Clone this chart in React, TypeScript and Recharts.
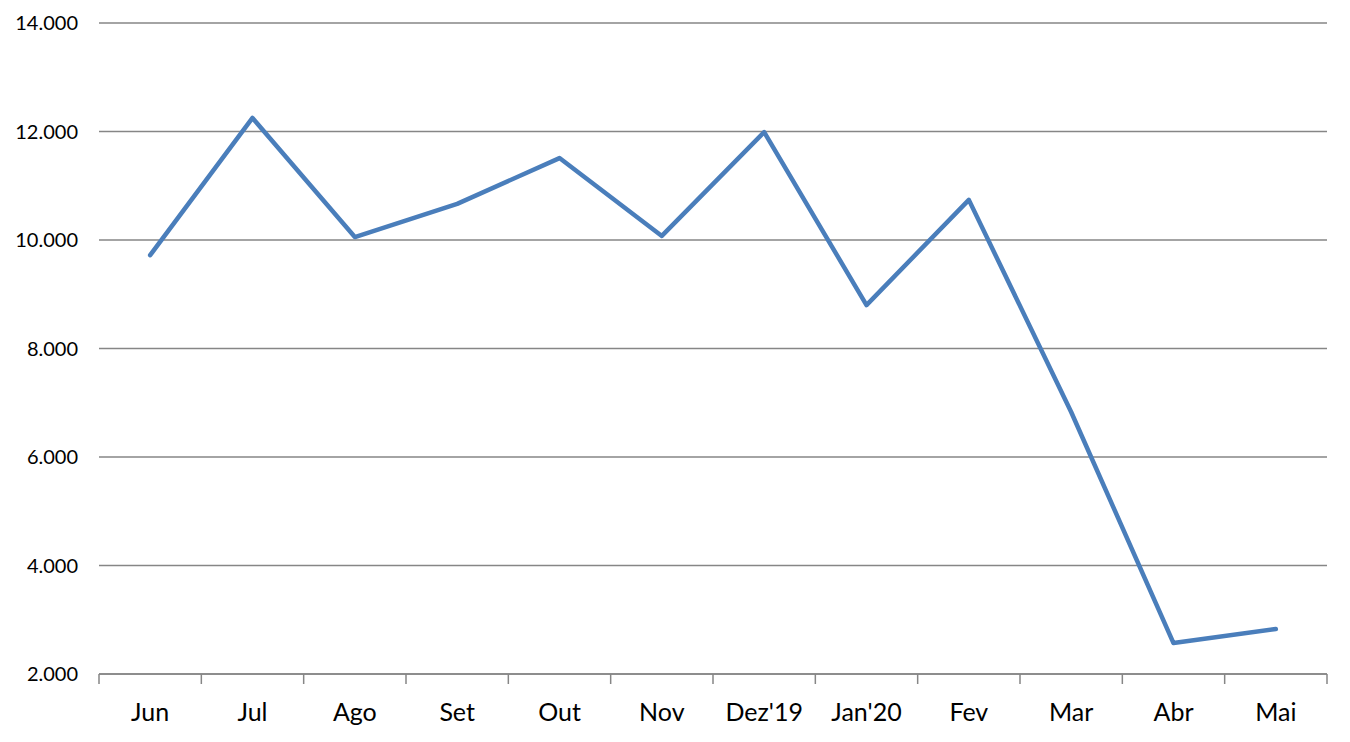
import React from "react";
import { LineChart, Line, XAxis, YAxis, CartesianGrid } from "recharts";

const months = ["Jun", "Jul", "Ago", "Set", "Out", "Nov", "Dez'19", "Jan'20", "Fev", "Mar", "Abr", "Mai"];
const values = [9720, 12250, 10055, 10665, 11510, 10075, 11990, 8800, 10740, 6830, 2570, 2830];
const yTicks = [2000, 4000, 6000, 8000, 10000, 12000, 14000];

const data = months.map((m, i) => ({ month: m, value: values[i] }));

const fmt = (v: number) => v.toLocaleString("de-DE");
const FONT = "Lato, 'Liberation Sans', sans-serif";
const AXIS_COLOR = "#868686";

function XTick(props: any) {
  const { x, y, payload, index, visibleTicksCount } = props;
  const half = payload && payload.offset ? payload.offset : 0;
  const isLast = index === visibleTicksCount - 1;
  return (
    <g>
      <line x1={x - half} x2={x - half} y1={y} y2={y + 10} stroke={AXIS_COLOR} strokeWidth={1.5} />
      {isLast && (
        <line x1={x + half} x2={x + half} y1={y} y2={y + 10} stroke={AXIS_COLOR} strokeWidth={1.5} />
      )}
      <text x={x} y={y + 47} textAnchor="middle" fill="#000" fontSize={25} fontFamily={FONT}>
        {payload.value}
      </text>
    </g>
  );
}

export default function App() {
  return (
    <div style={{ width: 1342, height: 726, background: "#fff" }}>
      <LineChart width={1342} height={726} data={data} margin={{ top: 15, right: 23, bottom: 0, left: 0 }}>
        <CartesianGrid vertical={false} stroke={AXIS_COLOR} strokeWidth={1.5} />
        <XAxis
          dataKey="month"
          scale="band"
          height={60}
          axisLine={{ stroke: AXIS_COLOR, strokeWidth: 1.5 }}
          tickLine={false}
          tickSize={0}
          tickMargin={0}
          tick={<XTick />}
          interval={0}
        />
        <YAxis
          width={91}
          domain={[2000, 14000]}
          ticks={yTicks}
          axisLine={false}
          tickLine={false}
          tickSize={0}
          tickMargin={21}
          tickFormatter={fmt}
          tick={{ fill: "#000", fontSize: 20, fontFamily: FONT }}
        />
        <Line
          type="linear"
          dataKey="value"
          stroke="#4A7EBB"
          strokeWidth={4.5}
          strokeLinejoin="round"
          strokeLinecap="round"
          dot={false}
          isAnimationActive={false}
        />
      </LineChart>
    </div>
  );
}
